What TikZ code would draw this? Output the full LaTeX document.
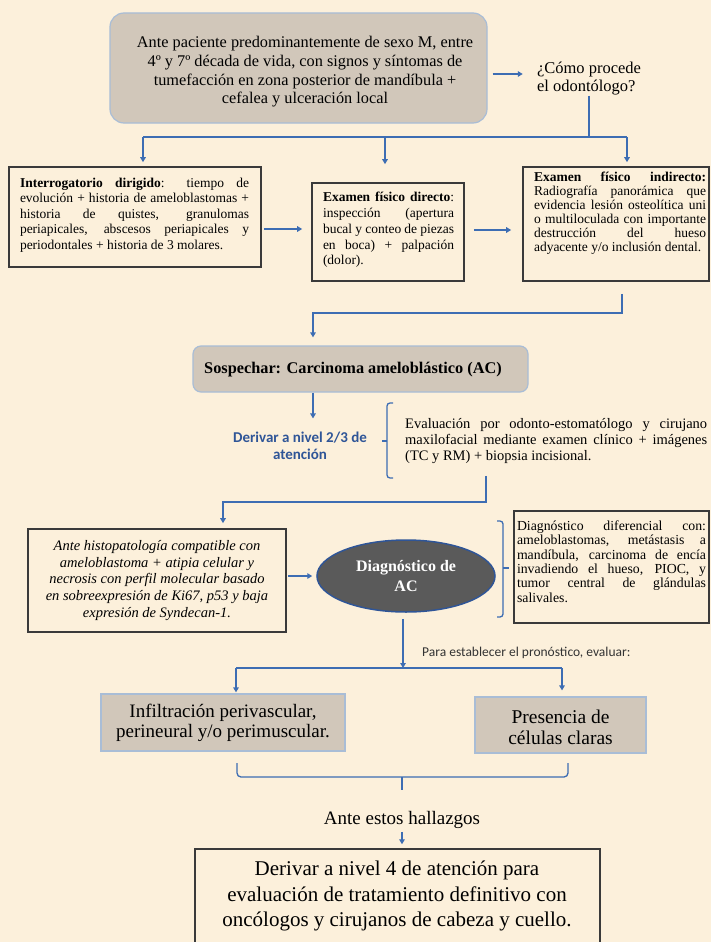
\documentclass[tikz,border=0pt]{standalone}
\usepackage{fontspec}
\setmainfont{Liberation Serif}
\newfontfamily\carlito{Carlito}
\usetikzlibrary{arrows.meta,calc,shapes.geometric}
\definecolor{bg}{HTML}{FCF0DB}
\definecolor{graybox}{HTML}{D1C7BA}
\definecolor{lblue}{HTML}{A9BDD6}
\definecolor{cblue}{HTML}{3D6DB3}
\definecolor{dblue}{HTML}{2F5597}
\definecolor{dgray}{HTML}{3A3A3A}
\definecolor{ellfill}{HTML}{5A5A5A}
\newcommand\myfs[2]{\fontsize{#1pt}{#2pt}\selectfont}
\begin{document}
\begin{tikzpicture}[x=1pt,y=-1pt,
 graynode/.style={draw=lblue, line width=1.2pt, fill=graybox, inner sep=0pt},
 blackbox/.style={draw=dgray, line width=1.6pt, inner sep=0pt},
 txt/.style={inner sep=0pt, text=black},
 conn/.style={draw=cblue, line width=1.3pt},
 arr/.style={conn, -{Triangle[length=5pt,width=5.5pt]}},
]
\fill[bg] (0,0) rectangle (711,942);
\useasboundingbox (0,0) rectangle (711,942);

% top
\node[graynode, rounded corners=14pt, minimum width=377pt, minimum height=110pt] (top) at (298.5,68) {};
\node[txt, align=center, font=\myfs{16.3}{18.7}] (toptext) at (305,72) {Ante paciente predominantemente de sexo M, entre\\4º y 7º década de vida, con signos y síntomas de\\tumefacción en zona posterior de mandíbula +\\cefalea y ulceración local};
\node[txt, align=left, font=\myfs{16.5}{18}] (q) at (589,79) {¿Cómo procede\\el odontólogo?};
\draw[arr] ($(top.east)+(5,6)$) -- ($(q.west)+(-14,-5)$);

\coordinate (j1) at (589,137);
\coordinate (hL) at (143,137);
\coordinate (hM) at (385,137);
\coordinate (hR) at (627,137);
\draw[conn] (q.south) -- (q.south |- j1);
\draw[conn] (hL) -- (hR);

% three boxes
\node[blackbox, minimum width=252pt, minimum height=100pt] (interr) at (135,217) {};
\node[txt, text width=229pt, align=justify, font=\myfs{13.5}{15.6}] (interrtext) at (134.5,215) {\textbf{Interrogatorio dirigido}: tiempo de\linebreak evolución + historia de ameloblastomas +\linebreak historia de quistes, granulomas\linebreak periapicales, abscesos periapicales y\linebreak periodontales + historia de 3 molares.};

\node[blackbox, minimum width=152pt, minimum height=98pt] (direct) at (388,232) {};
\node[txt, text width=131pt, align=justify, font=\myfs{13.5}{15.75}] (directtext) at (388.5,230) {\textbf{Examen físico directo}:\linebreak inspección (apertura\linebreak bucal y conteo de piezas\linebreak en boca) + palpación\linebreak (dolor).};

\node[blackbox, minimum width=186pt, minimum height=114pt] (indir) at (616,224) {};
\node[txt, text width=172pt, align=justify, font=\myfs{13.5}{14.1}] (indirtext) at (620,213) {\textbf{Examen físico indirecto:}\linebreak Radiografía panorámica que\linebreak evidencia lesión osteolítica uni\linebreak o multiloculada con importante\linebreak destrucción del hueso\linebreak adyacente y/o inclusión dental.};

\draw[arr, shorten >=4pt] (hL) -- (hL |- interr.north);
\draw[arr, shorten >=18pt] (hM) -- (hM |- direct.north);
\draw[arr, shorten >=4pt] (hR) -- (hR |- indir.north);
\coordinate (a1) at (0,229);
\coordinate (a2) at (0,230);
\draw[arr, shorten <=2pt, shorten >=9pt] (interr.east |- a1) -- (direct.west |- a1);
\draw[arr, shorten <=9pt, shorten >=11pt] (direct.east |- a2) -- (indir.west |- a2);

% sospechar
\node[graynode, rounded corners=8pt, minimum width=335pt, minimum height=46pt] (sosp) at (360.5,369) {};
\node[txt, anchor=west, font=\bfseries\myfs{16.3}{18}] (sosptext) at (204,370) {Sospechar: Carcinoma ameloblástico (AC)};
\coordinate (c2) at (622,313);
\coordinate (c3) at (313,313);
\draw[arr] ($(c2 |- indir.south)+(0,12)$) -- (c2) -- (c3) -- ($(c3 |- sosp.north)+(0,-8)$);

% derivar
\node[txt, align=center, text=dblue, font=\carlito\bfseries\myfs{15}{17}] (deriv) at (300,445.5) {Derivar a nivel 2/3 de\\atención};
\draw[arr, shorten >=13pt] (c3 |- sosp.south) -- (c3 |- deriv.north);
\draw[conn, rounded corners=3pt] (393,403) -- (387,403) -- (387,478) -- (393,478);
\draw[conn] (387,441) -- (382,441);
\node[txt, anchor=west, text width=302pt, align=justify, font=\myfs{14.5}{16}] (eval) at (405,441) {Evaluación por odonto-estomatólogo y cirujano\linebreak maxilofacial mediante examen clínico + imágenes\linebreak (TC y RM) + biopsia incisional.};

% histo + diag
\node[blackbox, minimum width=258pt, minimum height=103pt] (histo) at (157,580.5) {};
\node[txt, align=center, font=\itshape\myfs{14.5}{16.75}] (histotext) at (157,580.5) {Ante histopatología compatible con\\ameloblastoma + atipia celular y\\necrosis con perfil molecular basado\\en sobreexpresión de Ki67, p53 y baja\\expresión de Syndecan-1.};
\coordinate (c4) at (486,502);
\coordinate (c5) at (223,502);
\draw[arr] ($(c4 |- eval.south)+(0,12)$) -- (c4) -- (c5) -- ($(c5 |- histo.north)+(0,-5)$);

\node[ellipse, draw=dblue, line width=1.5pt, fill=ellfill, minimum width=178pt, minimum height=72pt, inner sep=0pt, align=center, text=white, font=\bfseries\myfs{16}{19.5}] (diag) at (406,576) {Diagnóstico de\\AC};
\draw[arr, shorten <=1pt, shorten >=4pt] (histo.east |- diag.center) -- (diag.west);

\draw[conn, rounded corners=3pt] (497,521) -- (503,521) -- (503,617) -- (497,617);
\draw[conn] (503,568) -- (509,568);
\node[blackbox, minimum width=195pt, minimum height=112pt] (diff) at (611.5,567) {};
\node[txt, text width=189pt, align=justify, font=\myfs{13.8}{14.3}] (difftext) at (611.5,561.5) {Diagnóstico diferencial con:\linebreak ameloblastomas, metástasis a\linebreak mandíbula, carcinoma de encía\linebreak invadiendo el hueso, PIOC, y\linebreak tumor central de glándulas\linebreak salivales.};

% pronostico
\node[txt, anchor=west, font=\carlito\myfs{13.5}{15}, text=black!80] (para) at (422,653) {Para establecer el pronóstico, evaluar:};
\coordinate (s2) at (403,668);
\coordinate (hl2) at (236,668);
\coordinate (hr2) at (562,668);
\draw[arr, shorten <=6pt] (diag.south -| s2) -- (s2);
\draw[conn] (hl2) -- (hr2);

\node[graynode, minimum width=244pt, minimum height=57pt] (infil) at (223,722.5) {};
\node[txt, align=center, font=\myfs{19}{20.5}] (infiltext) at (223,723) {Infiltración perivascular,\\perineural y/o perimuscular.};
\node[graynode, minimum width=171pt, minimum height=56pt] (pres) at (560.5,725) {};
\node[txt, align=center, font=\myfs{19.5}{21}] (prestext) at (560.5,727.5) {Presencia de\\células claras};
\draw[arr, shorten >=1pt] (hl2) -- (hl2 |- infil.north);
\draw[arr, shorten >=6pt] (hr2) -- (hr2 |- pres.north);

% bottom brace
\coordinate (bL) at (237,777);
\coordinate (bR) at (568,777);
\coordinate (bM) at (402,777);
\draw[conn, rounded corners=4pt] (237,763) -- (bL) -- (bR) -- (568,763);
\draw[conn] (bM) -- (402,790);

\node[txt, font=\myfs{19}{21}] (ante) at (402,820) {Ante estos hallazgos};
\node[draw=dgray, line width=1.4pt, inner sep=0pt, minimum width=405pt, minimum height=102pt] (final) at (397.5,900) {};
\node[txt, align=center, font=\myfs{21}{25.5}] (finaltext) at (397,896) {Derivar a nivel 4 de atención para\\evaluación de tratamiento definitivo con\\oncólogos y cirujanos de cabeza y cuello.};
\draw[arr, shorten <=3pt, shorten >=4pt] (ante.south) -- (ante.south |- final.north);
\end{tikzpicture}
\end{document}
